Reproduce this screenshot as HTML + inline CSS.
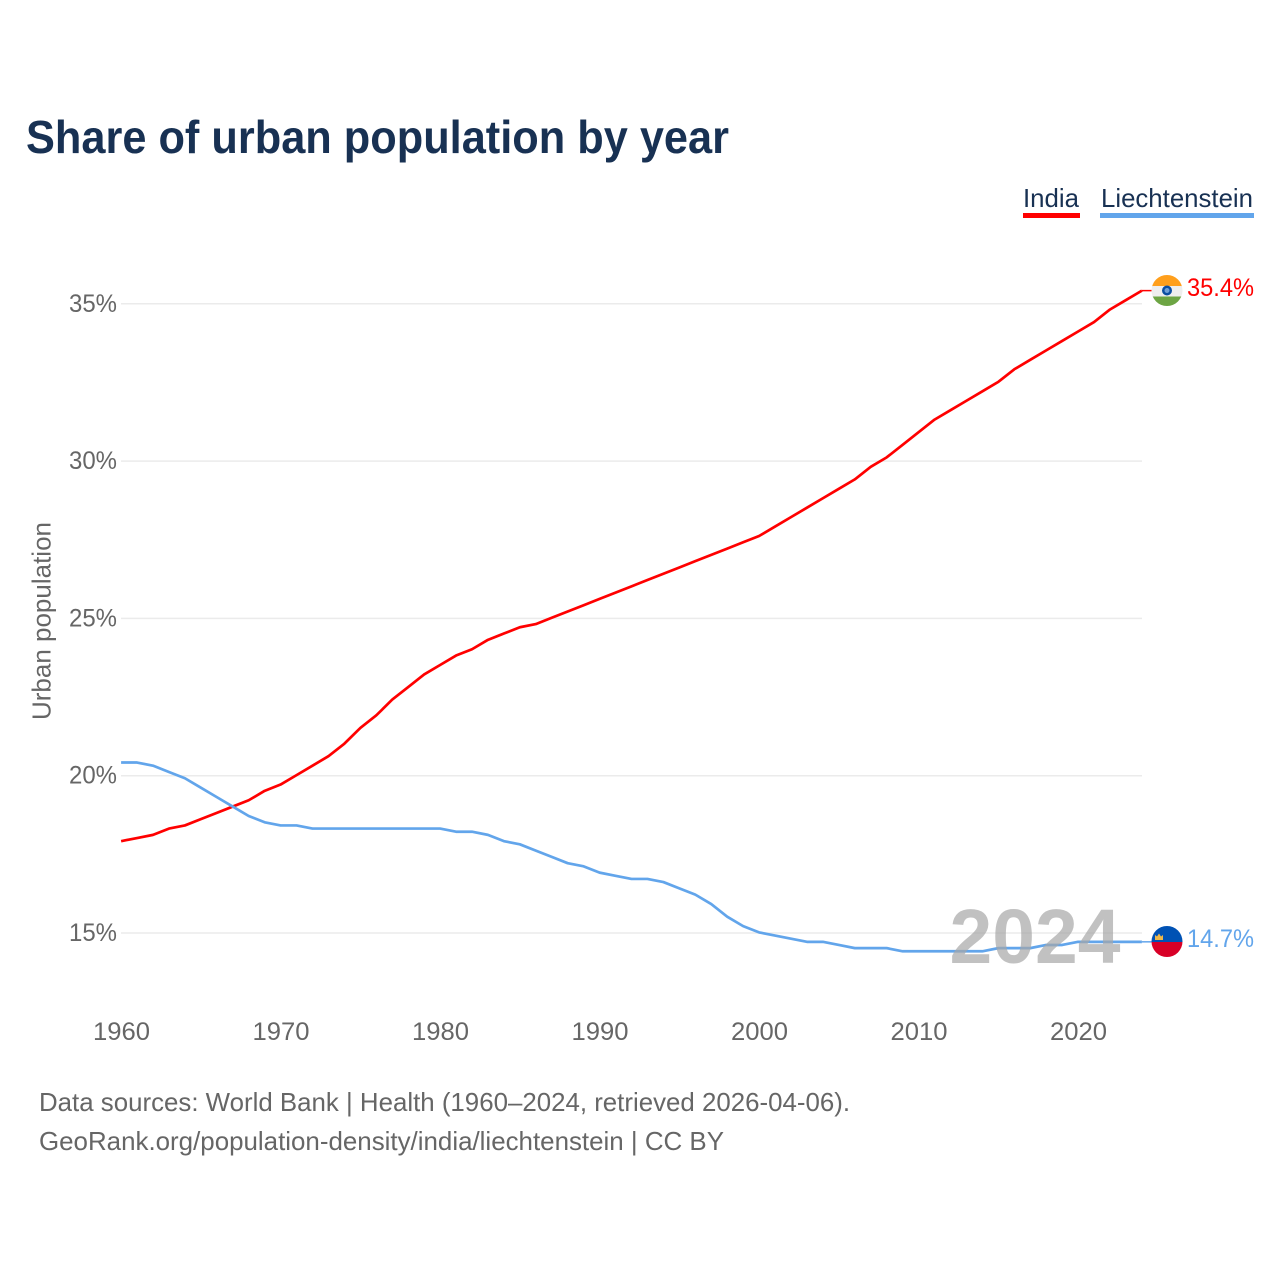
<!DOCTYPE html>
<html lang="en">
<head>
<meta charset="utf-8">
<title>Share of urban population by year</title>
<style>
html,body{margin:0;padding:0;background:#fff;}
svg{display:block;font-family:"Liberation Sans",sans-serif;}
</style>
</head>
<body>
<svg id="chart" width="1280" height="1280" viewBox="0 0 1280 1280" xmlns="http://www.w3.org/2000/svg">
  <rect width="1280" height="1280" fill="#fff"/>
  <text x="26" y="153" font-size="46" font-weight="700" fill="#183153" textLength="703" lengthAdjust="spacingAndGlyphs">Share of urban population by year</text>

  <g>
    <text x="1023" y="207" font-size="26" fill="#183153" textLength="56" lengthAdjust="spacingAndGlyphs">India</text>
    <rect x="1023" y="213" width="57" height="5" fill="#ff0000"/>
  </g>
  <g>
    <text x="1101" y="207" font-size="26" fill="#183153" textLength="152" lengthAdjust="spacingAndGlyphs">Liechtenstein</text>
    <rect x="1100" y="213" width="154" height="5" fill="#62a5eb"/>
  </g>

  <g id="grid"></g>
  <g id="yticks"></g>
  <g id="xticks"></g>
  <text transform="translate(50.500,621) rotate(-90)" text-anchor="middle" font-size="26" fill="#666" textLength="198" lengthAdjust="spacingAndGlyphs">Urban population</text>

  <g id="series" transform="translate(-0.4,-0.6)"></g>

  <text id="year-label" x="1035" y="963" text-anchor="middle" font-size="77" font-weight="700" fill="#a6a6a6" fill-opacity="0.7" textLength="171" lengthAdjust="spacingAndGlyphs">2024</text>

  <g id="india-flag">
    <clipPath id="clip-in"><circle cx="1167" cy="290.500" r="15.500"/></clipPath>
    <g clip-path="url(#clip-in)">
      <rect x="1151" y="275" width="32" height="11.500" fill="#ff9f1c"/>
      <rect x="1151" y="286" width="32" height="11" fill="#eeeeee"/>
      <rect x="1151" y="296.500" width="32" height="11" fill="#6da544"/>
      <circle cx="1167" cy="290.500" r="5" fill="#0b4ea2"/>
      <circle cx="1167" cy="290.500" r="2.500" fill="#6f9fd8"/>
    </g>
  </g>
  <g id="liechtenstein-flag">
    <clipPath id="clip-li"><circle cx="1167" cy="941.500" r="15.500"/></clipPath>
    <g clip-path="url(#clip-li)">
      <rect x="1151" y="926" width="32" height="16" fill="#0052b4"/>
      <rect x="1151" y="942" width="32" height="16" fill="#d80027"/>
      <path d="M1155 940v-5l2 1.500 2-3 2 3 2-1.500v5z" fill="#eeb84a"/>
    </g>
  </g>
  <text id="end-india" x="1187" y="296" font-size="25" fill="#ff0000" textLength="67" lengthAdjust="spacingAndGlyphs"></text>
  <text id="end-li" x="1187" y="947" font-size="25" fill="#62a5eb" textLength="67" lengthAdjust="spacingAndGlyphs"></text>

  <text x="39" y="1111" font-size="26" fill="#666" textLength="811" lengthAdjust="spacingAndGlyphs">Data sources: World Bank | Health (1960–2024, retrieved 2026-04-06).</text>
  <text x="39" y="1150" font-size="26" fill="#666" textLength="685" lengthAdjust="spacingAndGlyphs">GeoRank.org/population-density/india/liechtenstein | CC BY</text>
</svg>
<script>
const startYear = 1960;
const xTickYears = [1960, 1970, 1980, 1990, 2000, 2010, 2020];
const yTickValues = [15, 20, 25, 30, 35];
const indiaValues = [17.9,18.0,18.1,18.3,18.4,18.6,18.8,19.0,19.2,19.5,19.7,20.0,20.3,20.6,21.0,21.5,21.9,22.4,22.8,23.2,23.5,23.8,24.0,24.3,24.5,24.7,24.8,25.0,25.2,25.4,25.6,25.8,26.0,26.2,26.4,26.6,26.8,27.0,27.2,27.4,27.6,27.9,28.2,28.5,28.8,29.1,29.4,29.8,30.1,30.5,30.9,31.3,31.6,31.9,32.2,32.5,32.9,33.2,33.5,33.8,34.1,34.4,34.8,35.1,35.4];
const liechtensteinValues = [20.4,20.4,20.3,20.1,19.9,19.6,19.3,19.0,18.7,18.5,18.4,18.4,18.3,18.3,18.3,18.3,18.3,18.3,18.3,18.3,18.3,18.2,18.2,18.1,17.9,17.8,17.6,17.4,17.2,17.1,16.9,16.8,16.7,16.7,16.6,16.4,16.2,15.9,15.5,15.2,15.0,14.9,14.8,14.7,14.7,14.6,14.5,14.5,14.5,14.4,14.4,14.4,14.4,14.4,14.4,14.5,14.5,14.5,14.6,14.6,14.7,14.7,14.7,14.7,14.7];

const NS = 'http://www.w3.org/2000/svg';
const xScale = year => 121.5 + (year - 1960) * 15.95;
const yScale = value => 933 - (value - 15) * 31.46;

function make(tag, attrs, parent, text) {
  const el = document.createElementNS(NS, tag);
  for (const k in attrs) el.setAttribute(k, attrs[k]);
  if (text !== undefined) el.textContent = text;
  parent.appendChild(el);
  return el;
}

const grid = document.getElementById('grid');
const yticks = document.getElementById('yticks');
const xticks = document.getElementById('xticks');
const series = document.getElementById('series');

yTickValues.forEach(v => {
  const line = make('line', {x1: 121, x2: 1142, y1: yScale(v), y2: yScale(v), stroke: '#ebebeb', 'stroke-width': 1.5}, grid);
  
  
  const label = make('text', {x: 117, y: yScale(v) + 8, 'text-anchor': 'end', 'font-size': 25, fill: '#666', textLength: 48, lengthAdjust: 'spacingAndGlyphs'}, yticks, v + '%');
  
  
});

xTickYears.forEach(y => {
  const label = make('text', {x: xScale(y), y: 1040, 'text-anchor': 'middle', 'font-size': 25, fill: '#666', textLength: 57, lengthAdjust: 'spacingAndGlyphs'}, xticks, String(y));
  
  
});

function drawLine(values, color) {
  const d = values.map((v, i) => (i ? 'L' : 'M') + xScale(startYear + i).toFixed(2) + ' ' + yScale(v).toFixed(2)).join('');
  return make('path', {d: d, fill: 'none', stroke: color, 'stroke-width': 2.7, 'stroke-linejoin': 'round'}, series);
}
const indiaLine = drawLine(indiaValues, '#ff0000');


const liLine = drawLine(liechtensteinValues, '#62a5eb');



function drawConnector(values, color) {
  const last = values[values.length - 1];
  const y = yScale(last);
  return make('line', {x1: xScale(startYear + values.length - 1), x2: 1152, y1: y, y2: y, stroke: color, 'stroke-width': 1.5}, series);
}
const indiaConn = drawConnector(indiaValues, '#ff0000');


const liConn = drawConnector(liechtensteinValues, '#62a5eb');



document.getElementById('end-india').textContent = indiaValues[indiaValues.length - 1].toFixed(1) + '%';
document.getElementById('end-li').textContent = liechtensteinValues[liechtensteinValues.length - 1].toFixed(1) + '%';
</script>
</body>
</html>
